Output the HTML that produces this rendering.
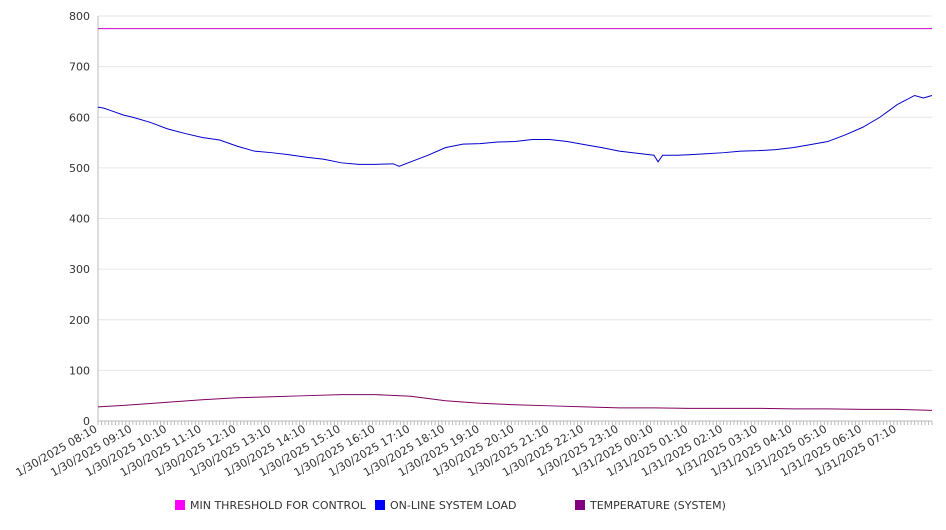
<!DOCTYPE html>
<html><head><meta charset="utf-8"><style>
body{margin:0;background:#fff;font-family:"DejaVu Sans","Liberation Sans",sans-serif;}
svg text{font-family:"DejaVu Sans","Liberation Sans",sans-serif;}
</style></head><body>
<svg id="chart" width="946" height="526" xmlns="http://www.w3.org/2000/svg">
<g id="grid"></g>
<g id="yaxis"></g>
<g id="xaxis"></g>
<g id="series"></g>
<g font-size="11" fill="#333">
 <g><rect x="175" y="500" width="10" height="10" fill="#ff00ff"/><text x="190" y="509">MIN THRESHOLD FOR CONTROL</text></g>
 <g><rect x="375" y="500" width="10" height="10" fill="#0000ff"/><text x="390" y="509">ON-LINE SYSTEM LOAD</text></g>
 <g><rect x="575" y="500" width="10" height="10" fill="#800080"/><text x="590" y="509">TEMPERATURE (SYSTEM)</text></g>
</g>
</svg>
<script>
const yTicks=[0,100,200,300,400,500,600,700,800];
const xLabels=["1/30/2025 08:10","1/30/2025 09:10","1/30/2025 10:10","1/30/2025 11:10","1/30/2025 12:10","1/30/2025 13:10","1/30/2025 14:10","1/30/2025 15:10","1/30/2025 16:10","1/30/2025 17:10","1/30/2025 18:10","1/30/2025 19:10","1/30/2025 20:10","1/30/2025 21:10","1/30/2025 22:10","1/30/2025 23:10","1/31/2025 00:10","1/31/2025 01:10","1/31/2025 02:10","1/31/2025 03:10","1/31/2025 04:10","1/31/2025 05:10","1/31/2025 06:10","1/31/2025 07:10"];
const loadTimes=[0,10,20,30,45,60,90,120,150,180,210,240,270,300,330,360,390,420,450,480,510,520,540,570,600,630,660,690,720,750,780,810,840,870,900,960,967,975,1000,1020,1050,1080,1110,1140,1170,1200,1230,1260,1290,1320,1350,1380,1410,1425,1440];
const loadValues=[620,618,614,610,604,600,590,577,568,560,555,543,533,530,526,521,517,510,507,507,508,503,512,525,540,547,548,551,552,556,556,552,546,540,533,525,512,525,525,526,528,530,533,534,536,540,546,552,565,580,600,625,643,638,643];
const tempTimes=[0,60,120,180,240,300,360,420,480,540,600,660,720,780,840,900,960,1020,1080,1140,1200,1260,1320,1380,1440];
const tempValues=[28,32,37,42,46,48,50,52,52,49,40,35,32,30,28,26,26,25,25,25,24,24,23,23,21];
const thresholdValue=775;
const X0=98,X1=932,Y0=421,Y1=16,TMAX=1440,VMAX=800;
const xs=t=>X0+(X1-X0)*t/TMAX, ys=v=>Y0-(Y0-Y1)*v/VMAX;
const NS="http://www.w3.org/2000/svg";
function mk(tag,parent){const e=document.createElementNS(NS,tag);document.getElementById(parent).appendChild(e);return e;}
yTicks.forEach(v=>{
 const l=mk("line","grid");
 
 
 l.setAttribute("x1",X0);l.setAttribute("x2",X1);l.setAttribute("y1",ys(v));l.setAttribute("y2",ys(v));l.setAttribute("stroke","#e6e6e6");
 const t=mk("text","yaxis");
 
 
 t.setAttribute("x",90);t.setAttribute("y",ys(v)+4);t.setAttribute("text-anchor","end");t.setAttribute("font-size","11");t.setAttribute("fill","#333");t.textContent=v;
});
const ax=mk("line","yaxis");


ax.setAttribute("x1",X0);ax.setAttribute("x2",X0);ax.setAttribute("y1",Y1);ax.setAttribute("y2",Y0);ax.setAttribute("stroke","#bbb");
const bx=mk("line","xaxis");


bx.setAttribute("x1",X0);bx.setAttribute("x2",X1);bx.setAttribute("y1",Y0);bx.setAttribute("y2",Y0);bx.setAttribute("stroke","#bbb");
for(let m=0;m<=TMAX;m+=6){
 const k=mk("line","xaxis");
 
 
 k.setAttribute("x1",xs(m));k.setAttribute("x2",xs(m));k.setAttribute("y1",Y0);k.setAttribute("y2",Y0+4);k.setAttribute("stroke","#bbb");
}
xLabels.forEach((s,i)=>{
 const x=xs(i*60);
 const t=mk("text","xaxis");
 
 
 t.setAttribute("transform",`translate(${x},${Y0+10}) rotate(-30)`);t.setAttribute("text-anchor","end");t.setAttribute("font-size","11");t.setAttribute("fill","#333");t.textContent=s;
});
function line(times,vals,color,name){
 const p=mk("polyline","series");
 
 
 p.setAttribute("points",times.map((t,i)=>xs(t)+","+ys(vals[i])).join(" "));
 p.setAttribute("fill","none");p.setAttribute("stroke",color);p.setAttribute("stroke-width","1");
}
line([0,TMAX],[thresholdValue,thresholdValue],"#cc00cc","threshold-line");
line(loadTimes,loadValues,"#0000cc","load-line");
line(tempTimes,tempValues,"#800060","temperature-line");
</script>
</body></html>
